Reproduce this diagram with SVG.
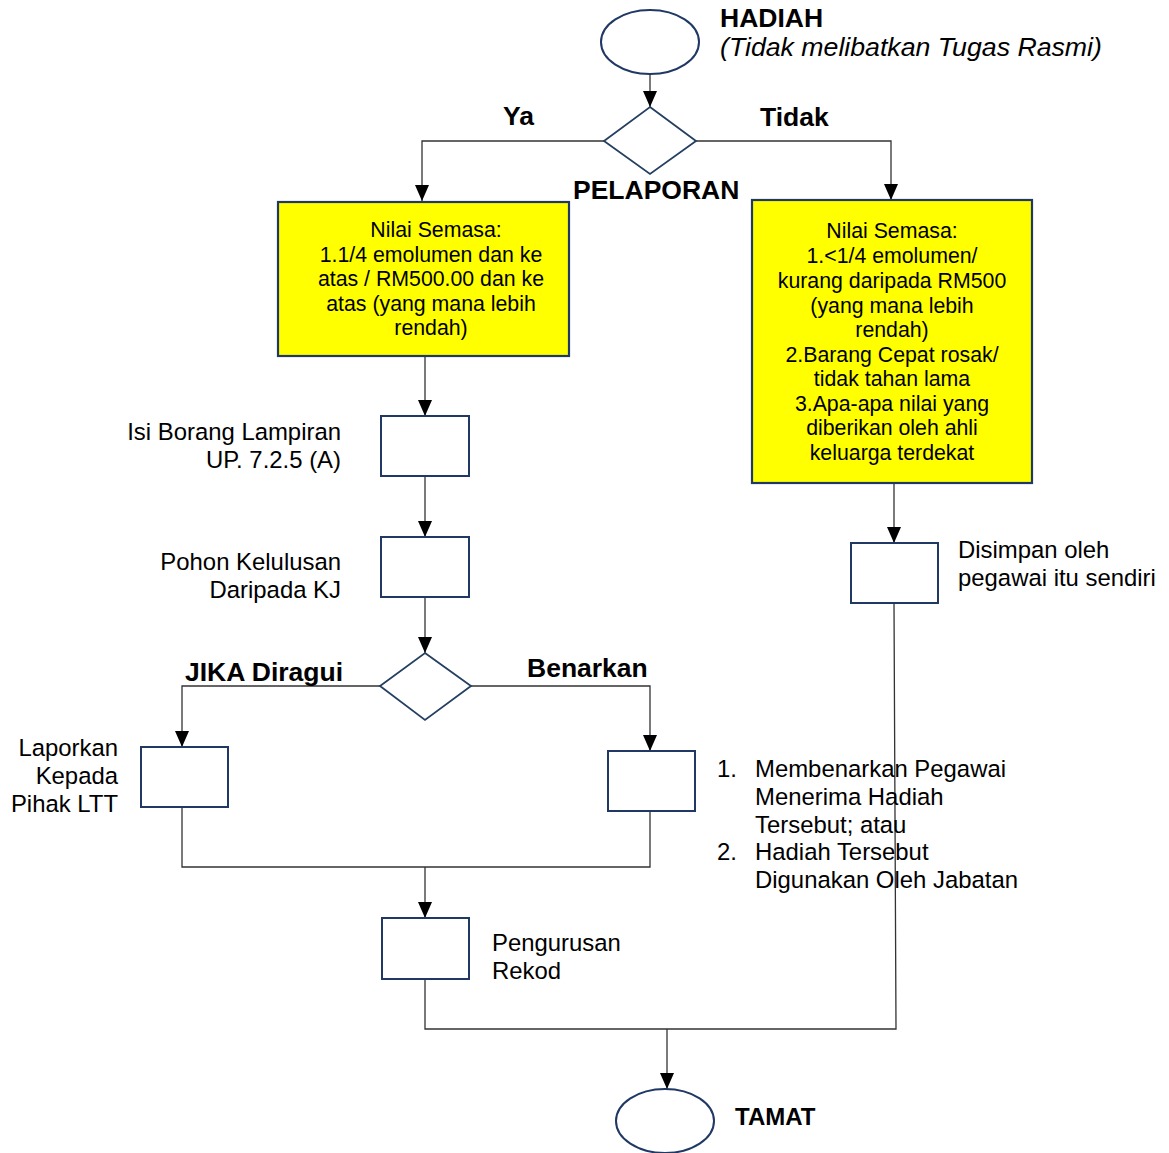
<svg xmlns="http://www.w3.org/2000/svg" width="1169" height="1153" viewBox="0 0 1169 1153">
<style>
text{font-family:"Liberation Sans",Arial,sans-serif;fill:#000}
.box{fill:#fff;stroke:#1F3864;stroke-width:2}
.yel{fill:#FFFF00;stroke:#1F3864;stroke-width:2.2}
.dia{fill:#fff;stroke:#243F60;stroke-width:1.8}
.ell{fill:#fff;stroke:#1F3864;stroke-width:2}
.con{fill:none;stroke:#333;stroke-width:1.3}
.arr{marker-end:url(#ah)}
.bt{font-size:21.3px;text-anchor:middle}
.lb{font-size:23.9px}
.r{text-anchor:end}
.bd{font-size:26.5px;font-weight:bold}
</style>
<defs>
<marker id="ah" viewBox="0 0 16 14" refX="16" refY="7" markerWidth="16" markerHeight="14" markerUnits="userSpaceOnUse" orient="auto">
<path d="M0,0 L16,7 L0,14 z" fill="#000"/>
</marker>
</defs>
<rect width="1169" height="1153" fill="#fff"/>

<g id="connectors">
<path class="con arr" d="M650,74 V107"/>
<path class="con arr" d="M604,141 H422 V201"/>
<path class="con arr" d="M696,141 H891 V200"/>
<path class="con arr" d="M425,356 V416"/>
<path class="con arr" d="M425,476 V537"/>
<path class="con arr" d="M425,597 V653"/>
<path class="con arr" d="M380,686 H182 V747"/>
<path class="con arr" d="M471,686 H650 V751"/>
<path class="con" d="M182,807 V867 H650 V808"/>
<path class="con arr" d="M425,867 V918"/>
<path class="con arr" d="M894,483 V543"/>
<path class="con" d="M425,979 V1029 H896 L894,603"/>
<path class="con arr" d="M667,1029 V1089"/>
</g>

<g id="start">
<ellipse class="ell" cx="650" cy="42" rx="49" ry="32"/>
<text class="bd" x="720" y="27">HADIAH</text>
<text x="720" y="56" style="font-size:26.7px;font-style:italic">(Tidak melibatkan Tugas Rasmi)</text>
</g>

<g id="pelaporan">
<polygon class="dia" points="650,107 696,141 650,174 604,141"/>
<text class="bd" x="573" y="199">PELAPORAN</text>
<text class="bd" x="503" y="125">Ya</text>
<text class="bd" x="760" y="126">Tidak</text>
</g>

<g id="nilai-atas">
<rect class="yel" x="278" y="202" width="291" height="154"/>
<text class="bt" x="436" y="237">Nilai Semasa:</text>
<text class="bt" x="431" y="262">1.1/4 emolumen dan ke</text>
<text class="bt" x="431" y="286">atas / RM500.00 dan ke</text>
<text class="bt" x="431" y="311">atas (yang mana lebih</text>
<text class="bt" x="431" y="335">rendah)</text>
</g>

<g id="nilai-bawah">
<rect class="yel" x="752" y="200" width="280" height="283"/>
<text class="bt" x="892" y="238">Nilai Semasa:</text>
<text class="bt" x="892" y="263">1.&lt;1/4 emolumen/</text>
<text class="bt" x="892" y="288">kurang daripada RM500</text>
<text class="bt" x="892" y="313">(yang mana lebih</text>
<text class="bt" x="892" y="337">rendah)</text>
<text class="bt" x="892" y="362">2.Barang Cepat rosak/</text>
<text class="bt" x="892" y="386">tidak tahan lama</text>
<text class="bt" x="892" y="411">3.Apa-apa nilai yang</text>
<text class="bt" x="892" y="435">diberikan oleh ahli</text>
<text class="bt" x="892" y="460">keluarga terdekat</text>
</g>

<g id="isi-borang">
<rect class="box" x="381" y="416" width="88" height="60"/>
<text class="lb r" x="341" y="440">Isi Borang Lampiran</text>
<text class="lb r" x="341" y="468">UP. 7.2.5 (A)</text>
</g>

<g id="pohon">
<rect class="box" x="381" y="537" width="88" height="60"/>
<text class="lb r" x="341" y="570">Pohon Kelulusan</text>
<text class="lb r" x="341" y="598">Daripada KJ</text>
</g>

<g id="keputusan">
<polygon class="dia" points="425,653 471,686 425,720 380,686"/>
<text class="bd" x="185" y="681">JIKA Diragui</text>
<text class="bd" x="527" y="677">Benarkan</text>
</g>

<g id="laporkan">
<rect class="box" x="141" y="747" width="87" height="60"/>
<text class="lb r" x="118" y="756">Laporkan</text>
<text class="lb r" x="118" y="784">Kepada</text>
<text class="lb r" x="118" y="812">Pihak LTT</text>
</g>

<g id="benarkan">
<rect class="box" x="608" y="751" width="87" height="60"/>
<text class="lb" x="717" y="777">1.</text>
<text class="lb" x="755" y="777">Membenarkan Pegawai</text>
<text class="lb" x="755" y="805">Menerima Hadiah</text>
<text class="lb" x="755" y="833">Tersebut; atau</text>
<text class="lb" x="717" y="860">2.</text>
<text class="lb" x="755" y="860">Hadiah Tersebut</text>
<text class="lb" x="755" y="888">Digunakan Oleh Jabatan</text>
</g>

<g id="disimpan">
<rect class="box" x="851" y="543" width="87" height="60"/>
<text class="lb" x="958" y="558">Disimpan oleh</text>
<text class="lb" x="958" y="586">pegawai itu sendiri</text>
</g>

<g id="pengurusan">
<rect class="box" x="382" y="918" width="87" height="61"/>
<text class="lb" x="492" y="951">Pengurusan</text>
<text class="lb" x="492" y="979">Rekod</text>
</g>

<g id="tamat">
<ellipse class="ell" cx="665" cy="1121" rx="49" ry="32"/>
<text x="735" y="1125" style="font-size:24px;font-weight:bold">TAMAT</text>
</g>
</svg>
